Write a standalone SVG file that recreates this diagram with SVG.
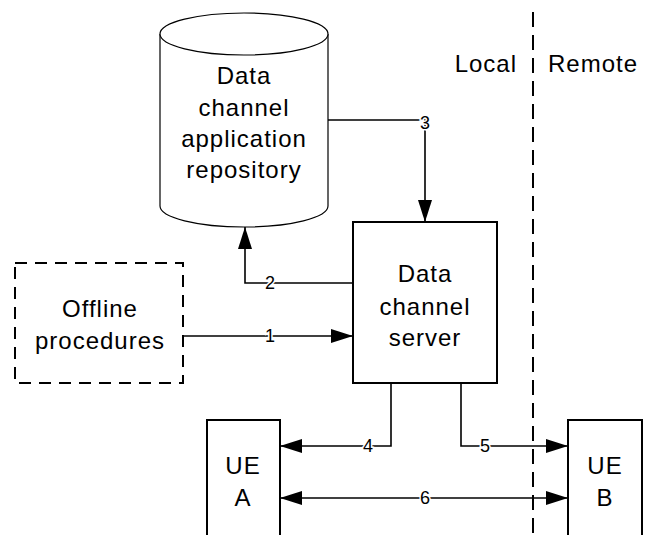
<svg xmlns="http://www.w3.org/2000/svg" width="650" height="535" viewBox="0 0 650 535">
<defs>
<style>
.t{font-family:"Liberation Sans",Arial,sans-serif;font-size:24px;letter-spacing:1px;fill:#000;text-anchor:middle;dominant-baseline:central}
.lbl{font-family:"Liberation Sans",Arial,sans-serif;font-size:18px;fill:#000;text-anchor:middle;dominant-baseline:central;paint-order:stroke;stroke:#fff;stroke-width:3px}
.box{fill:#fff;stroke:#000;stroke-width:2}
.ln{fill:none;stroke:#000;stroke-width:1.6}
</style>
<marker id="ah" viewBox="0 0 22 14" refX="22" refY="7" markerWidth="22" markerHeight="14" markerUnits="userSpaceOnUse" orient="auto-start-reverse">
<path d="M0,0 L22,7 L0,14 Z" fill="#000"/>
</marker>
</defs>
<rect width="650" height="535" fill="#fff"/>
<g id="divider">
<line x1="533" y1="12" x2="533" y2="535" stroke="#000" stroke-width="2" stroke-dasharray="15,8"/>
<text class="t" x="517" y="63" style="text-anchor:end">Local</text>
<text class="t" x="548" y="63" style="text-anchor:start">Remote</text>
</g>
<g id="repository">
<path d="M160,34 L160,206 A84,21 0 0 0 328,206 L328,34" fill="#fff" stroke="#000" stroke-width="1.2"/>
<ellipse cx="244" cy="34" rx="84" ry="21" fill="#fff" stroke="#000" stroke-width="1.2"/>
<text class="t" x="244" y="75">Data</text>
<text class="t" x="244" y="107">channel</text>
<text class="t" x="244" y="138">application</text>
<text class="t" x="244" y="169">repository</text>
</g>
<g id="server">
<rect class="box" x="353" y="222" width="144" height="161"/>
<text class="t" x="425" y="273">Data</text>
<text class="t" x="425" y="306">channel</text>
<text class="t" x="425" y="337">server</text>
</g>
<g id="offline">
<rect x="15" y="263" width="168" height="120" fill="#fff" stroke="#000" stroke-width="2" stroke-dasharray="12,8"/>
<text class="t" x="100" y="308">Offline</text>
<text class="t" x="100" y="340">procedures</text>
</g>
<g id="ue-a">
<path class="box" d="M207,536 L207,420 L280,420 L280,536"/>
<text class="t" x="243" y="465">UE</text>
<text class="t" x="243" y="497">A</text>
</g>
<g id="ue-b">
<path class="box" d="M568,536 L568,420 L642,420 L642,536"/>
<text class="t" x="605" y="465">UE</text>
<text class="t" x="605" y="497">B</text>
</g>
<g id="connectors">
<path class="ln" d="M183,336 L353,336" marker-end="url(#ah)"/>
<text class="lbl" x="270" y="336">1</text>
<path class="ln" d="M353,283 L245,283 L245,227" marker-end="url(#ah)"/>
<text class="lbl" x="270" y="283">2</text>
<path class="ln" d="M328,120 L425,120 L425,222" marker-end="url(#ah)"/>
<text class="lbl" x="425" y="123">3</text>
<path class="ln" d="M391,383 L391,446 L280,446" marker-end="url(#ah)"/>
<text class="lbl" x="368" y="446">4</text>
<path class="ln" d="M461,383 L461,446 L568,446" marker-end="url(#ah)"/>
<text class="lbl" x="485" y="446">5</text>
<path class="ln" d="M280,498 L568,498" marker-start="url(#ah)" marker-end="url(#ah)"/>
<text class="lbl" x="425" y="498">6</text>
</g>
</svg>
